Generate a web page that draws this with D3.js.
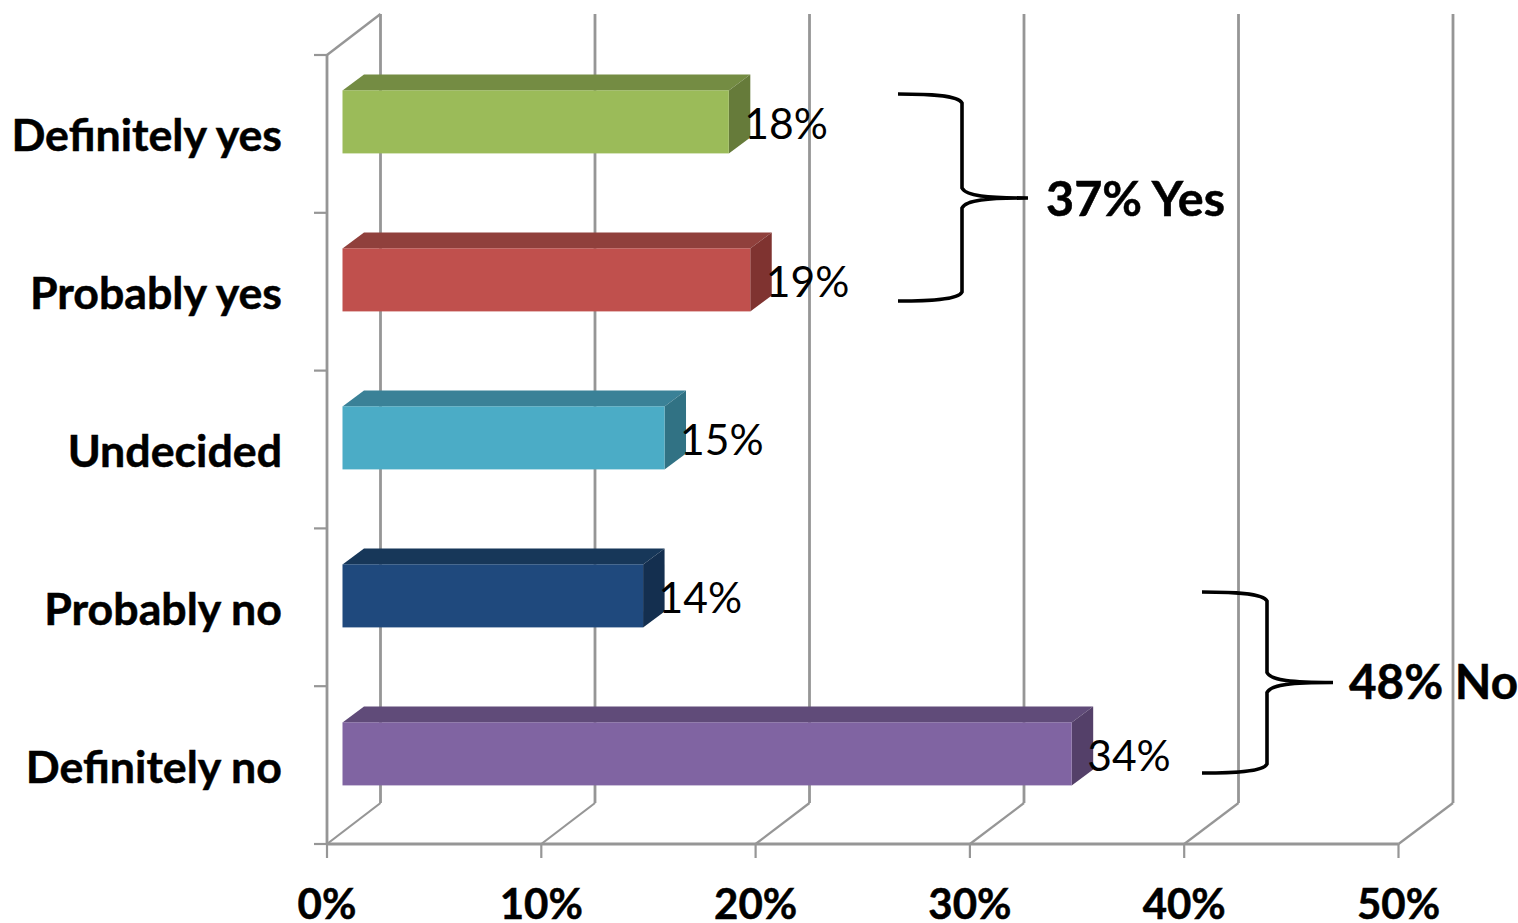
<!DOCTYPE html>
<html><head><meta charset="utf-8">
<style>html,body{margin:0;padding:0;background:#fff;overflow:hidden}svg{display:block}text{font-family:Lato,"Open Sans",sans-serif}</style>
<script src="https://cdn.jsdelivr.net/npm/d3@7/dist/d3.min.js"></script></head><body>
<script>
const categories=["Definitely yes","Probably yes","Undecided","Probably no","Definitely no"];
const values=[18.05,19.05,15.05,14.05,34.05];
const shownLabels=["18%","19%","15%","14%","34%"];
const frontColors=["#9BBB59","#C0504D","#4BACC6","#1F497D","#8064A2"];
const topColors=["#748C43","#90403C","#3A8197","#173759","#604B79"];
const sideColors=["#667B3A","#7F3330","#317284","#142F4F","#544069"];
const xTicks=[0,10,20,30,40,50];
const braces=[{label:"37% Yes",x0:898,xs:962,xTip:1028,y0:94,ym:198,y1:301,tx:1046,fs:48.5,ty:216},
              {label:"48% No",x0:1202,xs:1267,xTip:1333,y0:592,ym:682.5,y1:773,tx:1349,fs:47.6,ty:698.5}];

const W=1518,H=923,grid="#969696";
const barDX=21.5,barDY=16,inset=15;
const x=d3.scaleLinear().domain([0,50]).range([327,1398.5]);
const xBack=d3.scaleLinear().domain([0,50]).range([380.5,1453]);
const y=d3.scaleBand().domain(categories).range([90.4,880.4]);
const barH=63;
const axisY=d3.scaleLinear().domain([0,categories.length]).range([55,844]);
const svg=d3.select("body").append("svg").attr("width",W).attr("height",H);

const g=svg.append("g").attr("fill","none").attr("stroke",grid);
xTicks.forEach(t=>{
  g.append("path").attr("stroke-width",2.8).attr("d",`M${xBack(t)},14V803`);
  g.append("path").attr("stroke-width",2.2).attr("d",`M${xBack(t)},803L${x(t)},844`);
  g.append("path").attr("stroke-width",2.2).attr("d",`M${x(t)},844V858`);
});
g.append("path").attr("stroke-width",2.8).attr("d",`M${x(0)},55V844`);
g.append("path").attr("stroke-width",2.4).attr("d",`M${x(0)},55L${xBack(0)},14`);
g.append("path").attr("stroke-width",2.8).attr("d",`M${x(0)},844H${x(50)}`);
d3.range(categories.length+1).forEach(i=>{
  g.append("path").attr("stroke-width",2.2).attr("d",`M${x(0)-13},${axisY(i)}H${x(0)}`);
});

categories.forEach((c,i)=>{
  const left=x(0)+inset+0.5, right=x(values[i])+inset;
  const top=y(c), h=barH;
  svg.append("path").attr("fill",topColors[i])
    .attr("d",`M${left},${top}L${left+barDX},${top-barDY}H${right+barDX}L${right},${top}Z`);
  svg.append("path").attr("fill",sideColors[i])
    .attr("d",`M${right},${top}L${right+barDX},${top-barDY}V${top+h-barDY}L${right},${top+h}Z`);
  svg.append("rect").attr("x",left).attr("y",top).attr("width",right-left).attr("height",h).attr("fill",frontColors[i]);
  svg.append("text").attr("x",right+15.5).attr("y",top+48.6).attr("font-size",42.6).attr("fill","#000").text(shownLabels[i]);
  svg.append("text").attr("x",282).attr("y",top+60.6).attr("text-anchor","end").attr("font-size",44.7).attr("font-weight",700)
    .attr("stroke","#000").attr("stroke-width",0.5).attr("fill","#000").text(c);
});

xTicks.forEach(t=>{
  svg.append("text").attr("x",x(t)).attr("y",919).attr("text-anchor","middle").attr("font-size",42).attr("font-weight",700)
    .attr("stroke","#000").attr("stroke-width",0.5).text(t+"%");
});

braces.forEach(b=>{
  const p=d3.path();
  p.moveTo(b.x0,b.y0);
  p.bezierCurveTo(b.x0+30,b.y0,b.xs-4,b.y0+1,b.xs,b.y0+9);
  p.lineTo(b.xs,b.ym-10);
  p.bezierCurveTo(b.xs+4,b.ym-2,b.xs+25,b.ym,b.xTip,b.ym);
  p.moveTo(b.xTip,b.ym);
  p.bezierCurveTo(b.xs+25,b.ym,b.xs+4,b.ym+2,b.xs,b.ym+10);
  p.lineTo(b.xs,b.y1-9);
  p.bezierCurveTo(b.xs-4,b.y1-1,b.x0+30,b.y1,b.x0,b.y1);
  svg.append("path").attr("d",p.toString()).attr("fill","none").attr("stroke","#000").attr("stroke-width",3.6);
  svg.append("text").attr("x",b.tx).attr("y",b.ty).attr("font-size",b.fs).attr("font-weight",700)
    .attr("stroke","#000").attr("stroke-width",0.5).text(b.label);
});
</script></body></html>
